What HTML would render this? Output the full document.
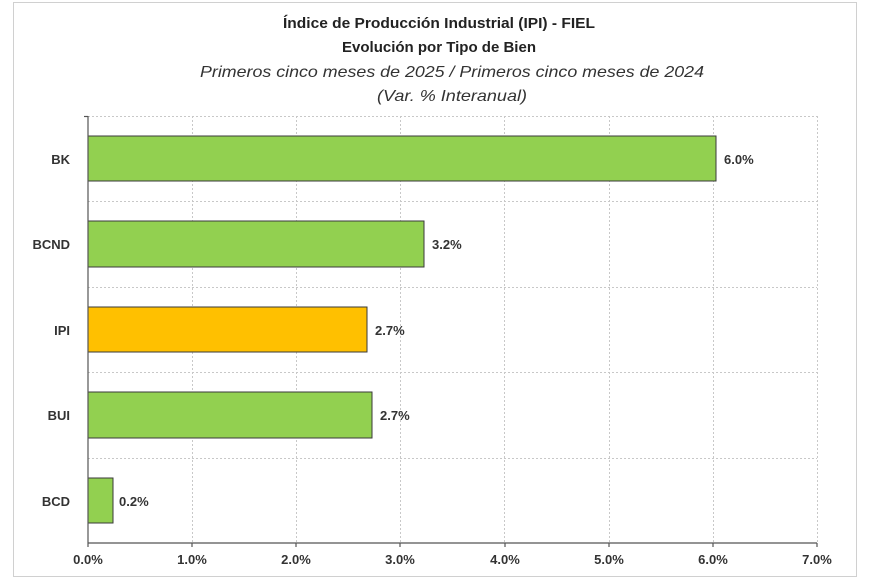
<!DOCTYPE html>
<html><head><meta charset="utf-8"><style>
body{margin:0;background:#fff;}
svg{display:block;font-family:"Liberation Sans",Arial,sans-serif;}
</style></head><body>
<svg width="870" height="580" viewBox="0 0 870 580">
<rect x="0" y="0" width="870" height="580" fill="#fff"/>
<rect x="13.5" y="2.5" width="843" height="574" fill="#fff" stroke="#d0d0d0"/>
<g text-anchor="middle" fill="#222">
<text x="439" y="28" font-size="15" font-weight="bold" textLength="312" lengthAdjust="spacingAndGlyphs">Índice de Producción Industrial (IPI) - FIEL</text>
<text x="439" y="52" font-size="15" font-weight="bold" textLength="194" lengthAdjust="spacingAndGlyphs">Evolución por Tipo de Bien</text>
<text x="452" y="77" font-size="16" font-style="italic" fill="#333" textLength="504" lengthAdjust="spacingAndGlyphs">Primeros cinco meses de 2025 / Primeros cinco meses de 2024</text>
<text x="452" y="101" font-size="16" font-style="italic" fill="#333" textLength="150" lengthAdjust="spacingAndGlyphs">(Var. % Interanual)</text>
</g>
<g stroke="#c8c8c8" stroke-dasharray="2,2" stroke-width="1">
<line x1="192.5" y1="116" x2="192.5" y2="543"/>
<line x1="296.5" y1="116" x2="296.5" y2="543"/>
<line x1="400.5" y1="116" x2="400.5" y2="543"/>
<line x1="504.5" y1="116" x2="504.5" y2="543"/>
<line x1="609.5" y1="116" x2="609.5" y2="543"/>
<line x1="713.5" y1="116" x2="713.5" y2="543"/>
<line x1="817.5" y1="116" x2="817.5" y2="543"/>
<line x1="88" y1="116.5" x2="817" y2="116.5"/>
<line x1="88" y1="201.5" x2="817" y2="201.5"/>
<line x1="88" y1="287.5" x2="817" y2="287.5"/>
<line x1="88" y1="372.5" x2="817" y2="372.5"/>
<line x1="88" y1="458.5" x2="817" y2="458.5"/>
</g>
<g stroke="#3a3a3a" stroke-width="1">
<rect x="88" y="136" width="628" height="45" fill="#92d050"/>
<rect x="88" y="221" width="336" height="46" fill="#92d050"/>
<rect x="88" y="307" width="279" height="45" fill="#ffc000"/>
<rect x="88" y="392" width="284" height="46" fill="#92d050"/>
<rect x="88" y="478" width="25" height="45" fill="#92d050"/>
</g>
<g stroke="#555" stroke-width="1.2">
<line x1="88" y1="116" x2="88" y2="543"/>
<line x1="84" y1="116.5" x2="88" y2="116.5"/>
<line x1="88" y1="543" x2="817" y2="543"/>
<line x1="88" y1="543" x2="88" y2="547"/><line x1="192" y1="543" x2="192" y2="547"/><line x1="296" y1="543" x2="296" y2="547"/><line x1="400" y1="543" x2="400" y2="547"/><line x1="505" y1="543" x2="505" y2="547"/><line x1="609" y1="543" x2="609" y2="547"/><line x1="713" y1="543" x2="713" y2="547"/><line x1="817" y1="543" x2="817" y2="547"/>
</g>
<g font-size="13" font-weight="bold" fill="#333" text-anchor="end">
<text x="70" y="164">BK</text>
<text x="70" y="249">BCND</text>
<text x="70" y="335">IPI</text>
<text x="70" y="420">BUI</text>
<text x="70" y="506">BCD</text>
</g>
<g font-size="13" font-weight="bold" fill="#333">
<text x="724" y="164">6.0%</text>
<text x="432" y="249">3.2%</text>
<text x="375" y="335">2.7%</text>
<text x="380" y="420">2.7%</text>
<text x="119" y="506">0.2%</text>
</g>
<g font-size="13" font-weight="bold" fill="#333" text-anchor="middle">
<text x="88" y="564">0.0%</text><text x="192" y="564">1.0%</text><text x="296" y="564">2.0%</text><text x="400" y="564">3.0%</text><text x="505" y="564">4.0%</text><text x="609" y="564">5.0%</text><text x="713" y="564">6.0%</text><text x="817" y="564">7.0%</text>
</g>
</svg>
</body></html>
